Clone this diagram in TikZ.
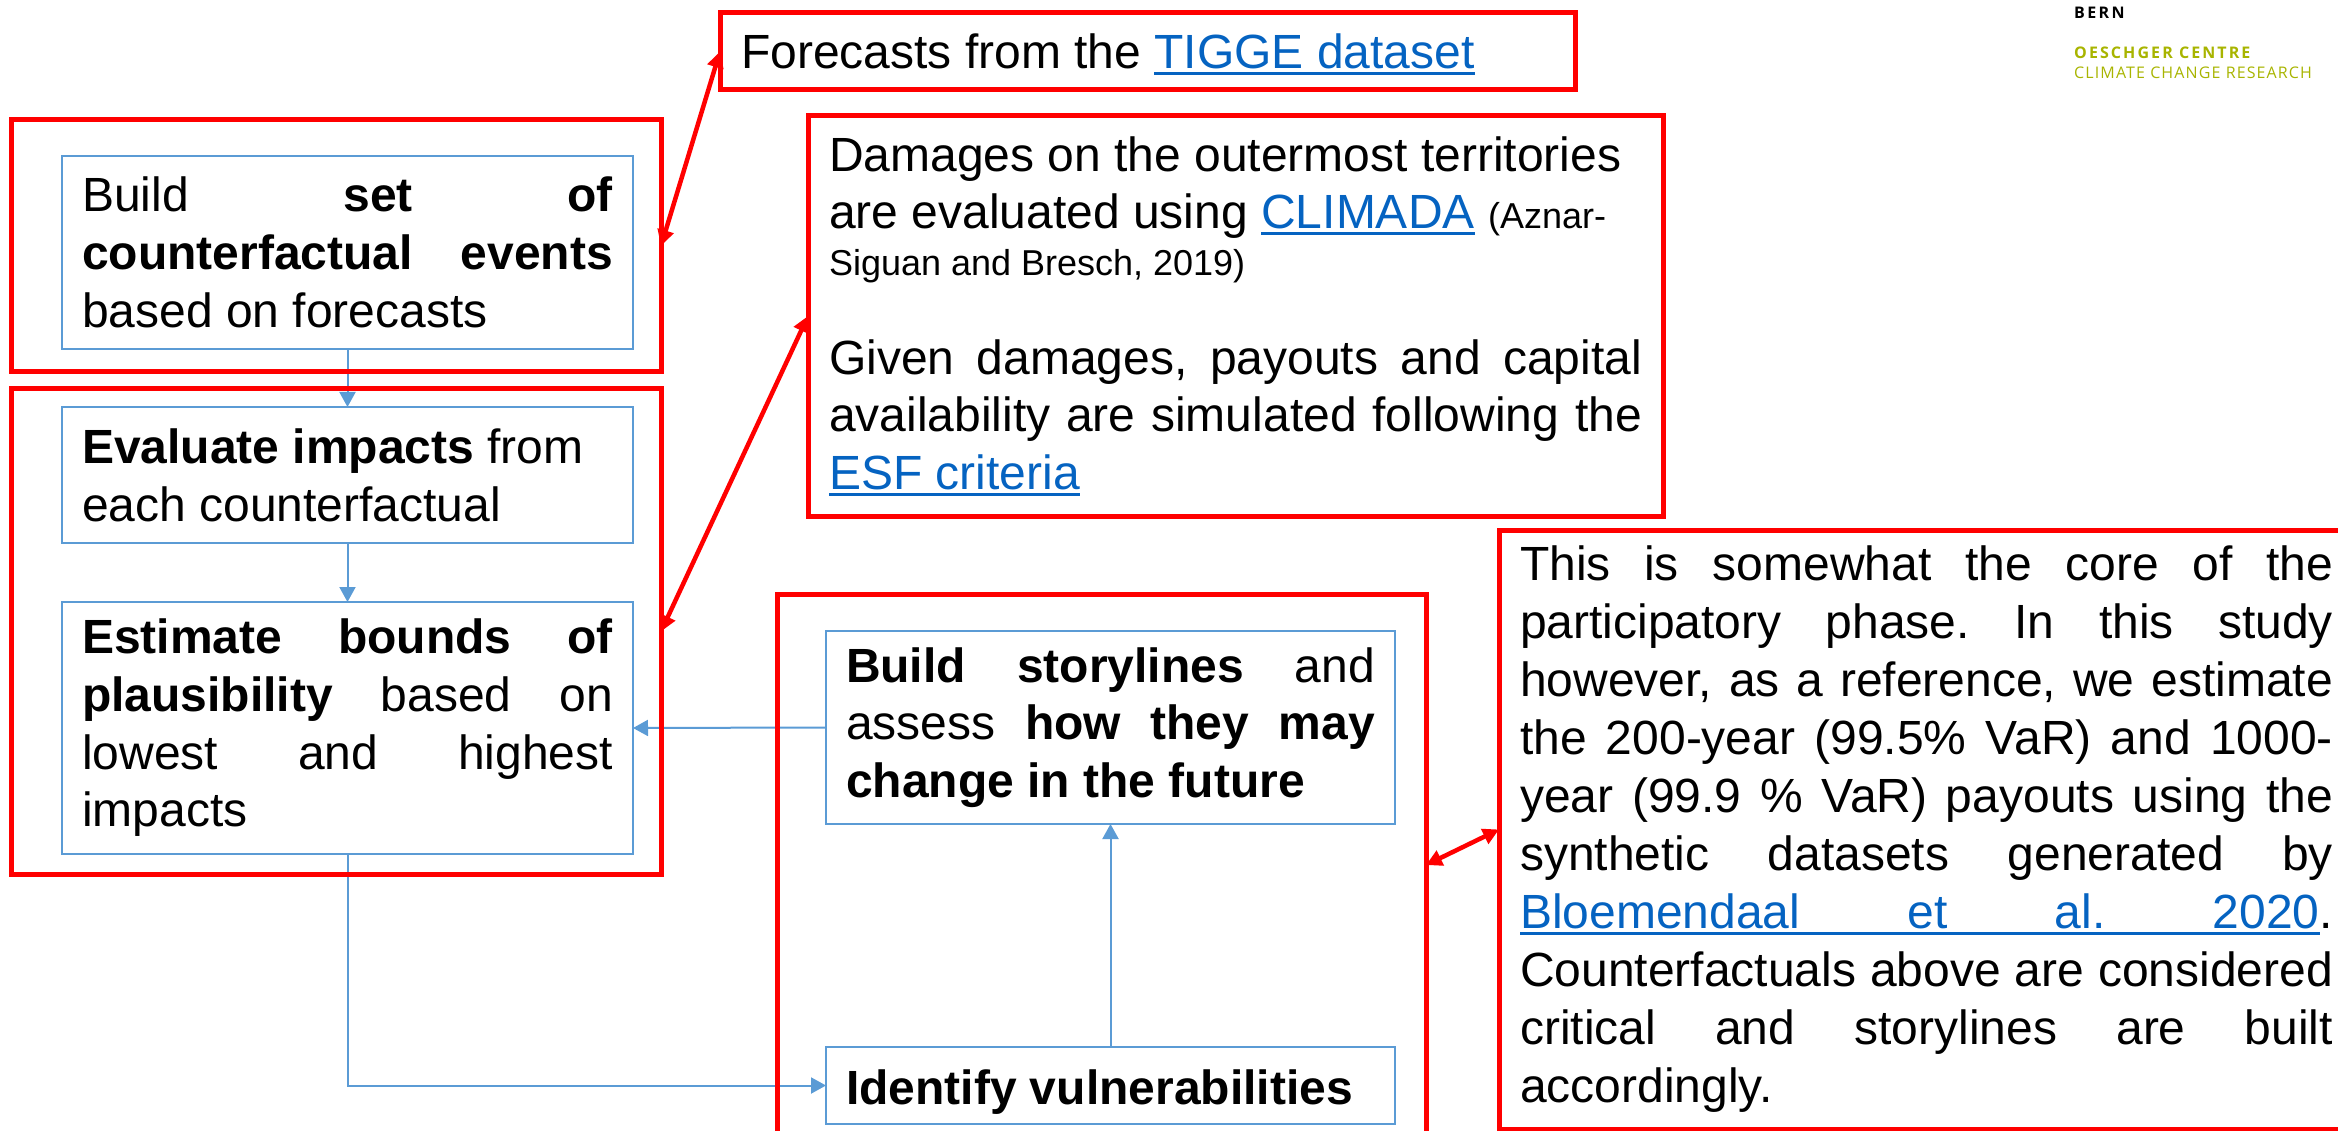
\documentclass[tikz,border=0pt]{standalone}
\usepackage{fontspec}
\usepackage{tikz}
\usetikzlibrary{arrows.meta}

\setmainfont{Liberation Sans}
\newfontfamily\logofont{Open Sans}
\frenchspacing

\definecolor{flowblue}{HTML}{5B9BD5}
\definecolor{linkblue}{HTML}{0563C1}
\definecolor{logogreen}{HTML}{A8B400}
\newsavebox{\linkbox}
\newcommand{\linkword}[1]{\textcolor{linkblue}{\sbox{\linkbox}{#1}\rlap{\usebox{\linkbox}}\rule[-6pt]{\wd\linkbox}{3pt}}}
\newcommand{\linkgap}{{\color{linkblue}\leaders\hrule height -3pt depth 6pt\hskip\fontdimen2\font plus\fontdimen3\font minus\fontdimen4\font}}

\tikzset{
	flowbox/.style={draw=flowblue, line width=2pt, anchor=north west, outer sep=0pt, inner xsep=20pt, inner ysep=0pt, align=justify, font=\fontsize{48}{57.7}\selectfont},
	redbox/.style={draw=red, line width=5pt, anchor=north west, outer sep=0pt, inner xsep=21pt, inner ysep=0pt, align=justify, font=\fontsize{48}{57.7}\selectfont},
	flowline/.style={draw=flowblue, line width=2pt, -{Triangle[length=15pt, width=16pt]}},
	redline/.style={draw=red, line width=4.5pt, {Triangle[length=16pt, width=16pt]}-{Triangle[length=16pt, width=16pt]}},
	logotext/.style={anchor=base west, inner sep=0pt, font=\logofont\fontsize{16}{18}\selectfont}
}

\begin{document}
\begin{tikzpicture}[x=1pt, y=-1pt]
	\useasboundingbox (0, 0) rectangle (2338, 1131);
	\clip (0, 0) rectangle (2338, 1131);

	\node[flowbox, text width=531pt, minimum height=193pt] (counterfactuals) at (62, 156) {Build \textbf{set of}\linebreak \textbf{counterfactual events}\linebreak based on forecasts};
	\node[flowbox, text width=531pt, minimum height=136pt] (impacts) at (62, 407) {\textbf{Evaluate impacts} from\\ each counterfactual};
	\node[flowbox, text width=531pt, minimum height=252pt] (bounds) at (62, 602) {\textbf{Estimate bounds of}\linebreak \textbf{plausibility} based on\linebreak lowest and highest\linebreak impacts};
	\node[flowbox, text width=529pt, minimum height=193pt] (storylines) at (826, 631) {\textbf{Build storylines} and\linebreak assess \textbf{how they may}\linebreak \textbf{change in the future}};
	\node[flowbox, text width=529pt, minimum height=77pt] (vulnerabilities) at (826, 1047) {\rule{0pt}{47pt}\textbf{Identify vulnerabilities}};

	\draw[flowline] (counterfactuals.south) -- (impacts.north);
	\draw[flowline] (impacts.south) -- (bounds.north);
	\draw[flowline] (storylines.west) -- (bounds.east);
	\draw[flowline] (vulnerabilities.north) -- (storylines.south);
	\draw[flowline] (bounds.south) |- (vulnerabilities.west);

	\node[redbox, minimum width=650pt, minimum height=252pt] (frameA) at (11, 120) {};
	\node[redbox, minimum width=650pt, minimum height=485pt] (frameB) at (11, 389) {};
	\node[redbox, minimum width=649pt, minimum height=542pt] (frameC) at (777, 594) {};

	\node[redbox, text width=813pt, minimum height=77pt] (forecasts) at (720, 13) {\rule{0pt}{41pt}Forecasts from the \linkword{TIGGE}\linkgap\linkword{dataset}};
	\node[redbox, text width=813pt, minimum height=400pt] (damages) at (808, 116) {Damages on the outermost territories\\ are evaluated using \linkword{CLIMADA} {\fontsize{36}{47}\selectfont (Aznar-}\\[-11pt] {\fontsize{36}{47}\selectfont Siguan and Bresch, 2019)}\\[41pt] Given damages, payouts and capital\linebreak availability are simulated following the\linebreak \linkword{ESF}\linkgap\linkword{criteria}};
	\node[redbox, text width=813pt, minimum height=599pt, font=\fontsize{48}{58}\selectfont] (core) at (1499, 530) {This is somewhat the core of the\linebreak participatory phase. In this study\linebreak however, as a reference, we estimate\linebreak the 200-year (99.5\% VaR) and 1000-\linebreak year (99.9 \% VaR) payouts using the\linebreak synthetic datasets generated by\linebreak \linkword{Bloemendaal}\linkgap\linkword{et}\linkgap\linkword{al.}\linkgap\linkword{2020}.\linebreak Counterfactuals above are considered\linebreak critical and storylines are built\linebreak accordingly.};

	\draw[redline] (frameA.east) -- (forecasts.west);
	\draw[redline] (frameB.east) -- (damages.west);
	\draw[redline] (frameC.east) -- (core.west);

	\node[logotext] (bern) at (2074, 19) {\textbf{\addfontfeature{LetterSpace=15}BERN}};
	\node[logotext, text=logogreen] (oeschger) at (2074, 59) {\textbf{\addfontfeature{LetterSpace=13}OESCHGER CENTRE}};
	\node[logotext, text=logogreen] (climate) at (2074, 79) {\addfontfeature{LetterSpace=7}CLIMATE CHANGE RESEARCH};

\end{tikzpicture}
\end{document}
